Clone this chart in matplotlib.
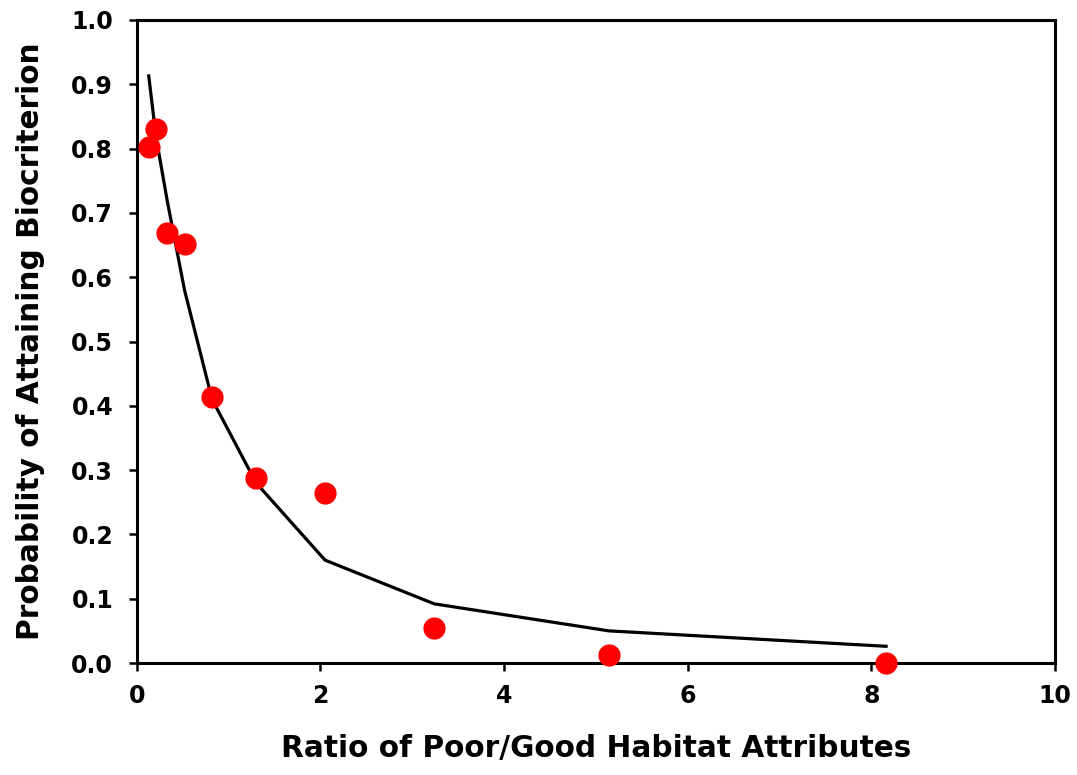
import matplotlib
matplotlib.use('Agg')
import matplotlib.pyplot as plt

# observed points
ratio_obs = [0.13, 0.21, 0.33, 0.52, 0.82, 1.30, 2.05, 3.24, 5.14, 8.16]
prob_obs = [0.802, 0.830, 0.669, 0.651, 0.414, 0.287, 0.265, 0.055, 0.013, 0.0]

# fitted curve
ratio_fit = [0.13, 0.21, 0.33, 0.52, 0.82, 1.30, 2.05, 3.24, 5.14, 8.16]
prob_fit = [0.913, 0.818, 0.72, 0.58, 0.41, 0.28, 0.16, 0.092, 0.05, 0.026]

plt.rcParams['font.family'] = ['DejaVu Sans']
plt.rcParams['font.weight'] = 'bold'

fig = plt.figure(figsize=(10.77, 7.75), dpi=100)
ax = fig.add_axes([0.127, 0.1445, 0.8526, 0.8297])

ax.plot(ratio_fit, prob_fit, color='black', linewidth=2.3, zorder=2)
ax.plot(ratio_obs, prob_obs, 'o', color='#ff0000', markersize=16,
        markeredgewidth=0, zorder=3, clip_on=False)

ax.set_xlim(0, 10)
ax.set_ylim(0, 1.0)
ax.set_xticks([0, 2, 4, 6, 8, 10])
ax.set_yticks([i / 10 for i in range(11)])
ax.set_yticklabels(['%.1f' % (i / 10) for i in range(11)])

for s in ax.spines.values():
    s.set_linewidth(2.2)
ax.tick_params(direction='out', length=6, width=1.8, labelsize=17)
ax.tick_params(axis='y', pad=11)
ax.tick_params(axis='x', pad=9)
for lab in ax.get_xticklabels() + ax.get_yticklabels():
    lab.set_fontweight('bold')

ax.set_xlabel('Ratio of Poor/Good Habitat Attributes', fontsize=21.3,
              fontweight='bold', labelpad=19)
ax.set_ylabel('Probability of Attaining Biocriterion', fontsize=21.3,
              fontweight='bold', labelpad=19)

fig.savefig('out.png', dpi=100)
